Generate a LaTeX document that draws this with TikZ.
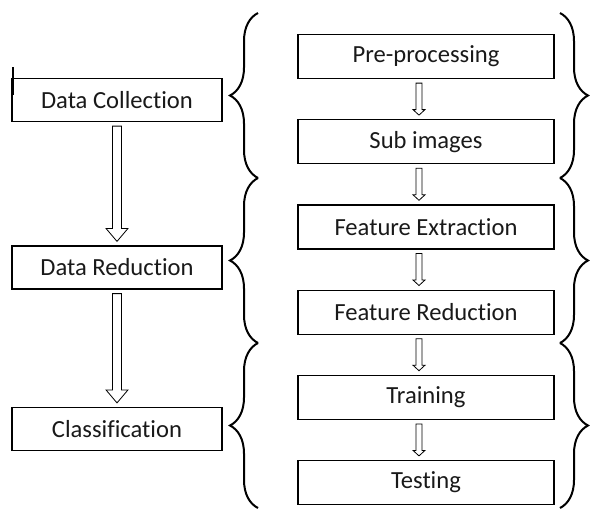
\documentclass[tikz,border=0pt]{standalone}
\usepackage{fontspec}
\setmainfont{Carlito}[Ligatures=NoCommon]
\usetikzlibrary{positioning, calc, decorations.pathreplacing}

\begin{document}
\begin{tikzpicture}[x=0.5pt, y=-0.5pt,
    every node/.style={font=\fontsize{12.3}{14}\selectfont, text=black!90},
    stage/.style={draw, line width=0.6pt, minimum width=105pt, minimum height=21.5pt, inner sep=0pt},
    task/.style={draw, line width=0.6pt, minimum width=128pt, minimum height=22pt, inner sep=0pt},
    curly/.style={decorate, line width=1pt, decoration={brace, amplitude=14pt}},
    flow/.style n args={3}{line width=0.4pt, to path={
        let \p1=(\tikztostart), \p2=(\tikztotarget) in
        (\x1-#1,\y1-2pt) -- (\x1-#1,\y2+2pt+#3) -- (\x1-#2,\y2+2pt+#3) -- (\x1,\y2+2pt)
        -- (\x1+#2,\y2+2pt+#3) -- (\x1+#1,\y2+2pt+#3) -- (\x1+#1,\y1-2pt) -- cycle}},
    bigflow/.style={flow={2.25pt}{5.5pt}{6.5pt}},
    smallflow/.style={flow={1.5pt}{3pt}{2.75pt}}]
    \useasboundingbox (0,0) rectangle (590,511);

    % left column: main stages
    \node[stage] (dc) at (117,100) {Data Collection};
    \node[stage] (dr) at (117,267.5) {Data Reduction};
    \node[stage] (cl) at (117,429) {Classification};

    % right column: the steps
    \node[task] (pre) at (426,56.5) {Pre-processing};
    \node[task, below=20pt of pre] (sub) {Sub images};
    \node[task, below=20pt of sub] (fext) {Feature Extraction};
    \node[task, below=20pt of fext] (fred) {Feature Reduction};
    \node[task, below=20pt of fred] (train) {Training};
    \node[task, below=20pt of train] (test) {Testing};

    % hollow arrows
    \draw[bigflow] (dc.south) to (dr.north);
    \draw[bigflow] (dr.south) to (cl.north);
    \foreach \a/\b in {pre/sub, sub/fext, fext/fred, fred/train, train/test}
        \draw[smallflow] ([xshift=-3.5pt]\a.south) to ([xshift=-3.5pt]\b.north);

    % braces
    \draw[curly] (258,178) -- (258,13);
    \draw[curly] (258,343) -- (258,178);
    \draw[curly] (258,508) -- (258,343);
    \draw[curly] (560,13) -- (560,178);
    \draw[curly] (560,178) -- (560,343);
    \draw[curly] (560,343) -- (560,508);

    \draw[line width=1pt] (13,67) -- (13,95);
\end{tikzpicture}
\end{document}
